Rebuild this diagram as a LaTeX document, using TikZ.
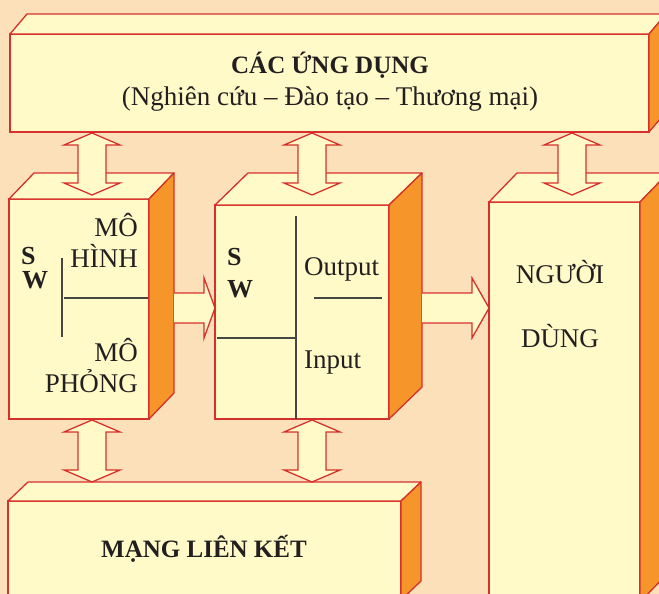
\documentclass[tikz,border=0pt]{standalone}
\usepackage{fontspec}
\setmainfont{Liberation Serif}
\usetikzlibrary{calc}
\definecolor{bg}{RGB}{252,224,186}
\definecolor{boxfill}{RGB}{255,250,199}
\definecolor{sideor}{RGB}{246,150,42}
\definecolor{boxred}{RGB}{214,48,44}
\definecolor{linegray}{RGB}{70,70,66}
\definecolor{txt}{RGB}{35,31,32}
\tikzset{
  face/.style={draw=boxred, fill=boxfill, line width=1.3pt, inner sep=0pt, outer sep=0pt, anchor=north west},
  sideface/.style={draw=boxred, fill=sideor, line width=1.3pt, line join=round},
  topface/.style={draw=boxred, fill=boxfill, line width=1.3pt, line join=round},
  arrfill/.style={fill=boxfill},
  arrline/.style={draw=boxred, line width=1.3pt, line join=miter},
  sepline/.style={draw=linegray, line width=1.2pt},
  lbl/.style={font=\fontsize{27}{30}\selectfont, text=txt, inner sep=0pt},
  blbl/.style={font=\bfseries\fontsize{25}{28}\selectfont, text=txt, inner sep=0pt},
  swlbl/.style={font=\bfseries\fontsize{26}{28}\selectfont, text=txt, inner sep=0pt}
}
% top and side faces of a box whose front face is node #1, depth (#2 right, #3 up)
\newcommand\cubefaces[3]{%
  \draw[topface] (#1.north west) -- ++(#2,-#3) -- ($(#1.north east)+(#2,-#3)$) -- (#1.north east) -- cycle;
  \draw[sideface] (#1.north east) -- ++(#2,-#3) -- ($(#1.south east)+(#2,-#3)$) -- (#1.south east) -- cycle;}
% vertical double arrow: centre x, top tip y, bottom tip y
\newcommand\vdarrow[3]{%
  \path[arrfill,arrline] (#1,#2) -- (#1+28,#2+12) -- (#1+14,#2+12) -- (#1+14,#3-12) -- (#1+28,#3-12)
    -- (#1,#3) -- (#1-28,#3-12) -- (#1-14,#3-12) -- (#1-14,#2+12) -- (#1-28,#2+12) -- cycle;}
% horizontal arrow: start x, head base x, tip x, centre y
\newcommand\hsarrow[4]{%
  \fill[arrfill] (#1,#4-15) -- (#2,#4-15) -- (#2,#4-30) -- (#3,#4) -- (#2,#4+30) -- (#2,#4+15) -- (#1,#4+15) -- cycle;
  \draw[arrline] (#1,#4-15) -- (#2,#4-15) -- (#2,#4-30) -- (#3,#4) -- (#2,#4+30) -- (#2,#4+15) -- (#1,#4+15);}
\begin{document}
\begin{tikzpicture}[x=1pt,y=-1pt]
\useasboundingbox (0,0) rectangle (659,594);
\fill[bg] (0,0) rectangle (659,594);
\begin{scope}
\clip (0,0) rectangle (659,594);
% boxes
\node[face, minimum width=639pt, minimum height=98pt] (app) at (10,34) {};
\cubefaces{app}{17}{20}
\node[face, minimum width=140pt, minimum height=220pt] (sim) at (9,199) {};
\cubefaces{sim}{25}{26}
\node[face, minimum width=174pt, minimum height=214pt] (sw) at (215,205) {};
\cubefaces{sw}{33}{32}
\node[face, minimum width=151pt, minimum height=400pt] (user) at (489,202) {};
\cubefaces{user}{28}{29}
\node[face, minimum width=393pt, minimum height=99pt] (net) at (8,501) {};
\cubefaces{net}{20}{19}
% separators
\draw[sepline] (62,258) -- (62,337);
\draw[sepline] (64,298) -- (148,298);
\draw[sepline] (296,216) -- (296,419);
\draw[sepline] (217,338) -- (297,338);
\draw[sepline] (314,298) -- (382,298);
% texts
\node[blbl, anchor=base] (t1) at (330,74) {CÁC ỨNG DỤNG};
\node[lbl, anchor=base] (t2) at (330,106) {(Nghiên cứu – Đào tạo – Thương mại)};
\node[swlbl, anchor=base west] (s1) at (21,264) {S};
\node[swlbl, anchor=base west] (w1) at (22,288) {W};
\node[lbl, anchor=base east] (m1) at (138,236) {MÔ};
\node[lbl, anchor=base east] (h1) at (138,267) {HÌNH};
\node[lbl, anchor=base east] (m2) at (138,361) {MÔ};
\node[lbl, anchor=base east] (p1) at (138,392) {PHỎNG};
\node[swlbl, anchor=base west] (s2) at (227,265) {S};
\node[swlbl, anchor=base west] (w2) at (227,297) {W};
\node[lbl, anchor=base west] (o1) at (304,275) {Output};
\node[lbl, anchor=base west] (i1) at (304,368) {Input};
\node[lbl, anchor=base] (n1) at (560,283) {NGƯỜI};
\node[lbl, anchor=base] (d1) at (560,347) {DÙNG};
\node[blbl, anchor=base] (mg) at (204,557) {MẠNG LIÊN KẾT};
% arrows
\vdarrow{92}{133}{195}
\vdarrow{312}{133}{195}
\vdarrow{572}{133}{195}
\vdarrow{92}{420}{482}
\vdarrow{312}{420}{482}
\hsarrow{174}{204}{215}{308}
\hsarrow{422}{472}{489}{308}
\end{scope}
\end{tikzpicture}
\end{document}
